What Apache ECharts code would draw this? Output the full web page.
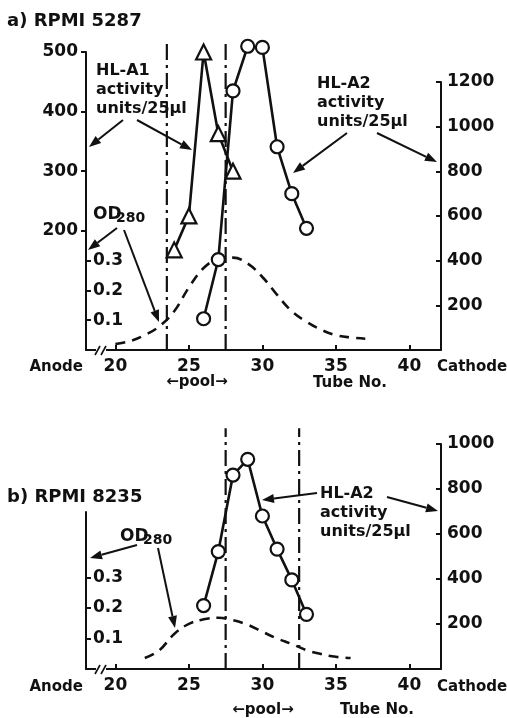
<!DOCTYPE html>
<html><head><meta charset="utf-8">
<script src="https://cdn.jsdelivr.net/npm/echarts@6/dist/echarts.min.js"></script>
<style>html,body{margin:0;padding:0;background:#fff}#c{width:507px;height:718px}</style>
</head><body><div id="c"></div>
<script>
// ---------- data ----------
const xTicks = [20, 25, 30, 35, 40];
// panel a) RPMI 5287
const tubesA1 = [24, 25, 26, 27, 28];
const hla1A = [168, 225, 500, 363, 300];
const tubesA2 = [26, 27, 28, 29, 30, 31, 32, 33];
const hla2A = [140, 405, 1160, 1360, 1355, 910, 700, 545];
const odTubesA = [20, 21, 22, 23, 24, 25, 26, 27, 28, 29, 30, 31, 32, 33, 34, 35, 36, 37];
const odA = [0.02, 0.03, 0.05, 0.08, 0.13, 0.21, 0.275, 0.305, 0.31, 0.29, 0.245, 0.185, 0.13, 0.095, 0.068, 0.05, 0.042, 0.038];
const poolA = [23.5, 27.5];
const hla1TicksA = [200, 300, 400, 500];
const hla2TicksA = [200, 400, 600, 800, 1000, 1200];
// panel b) RPMI 8235
const tubesB = [26, 27, 28, 29, 30, 31, 32, 33];
const hla2B = [282, 522, 862, 932, 680, 533, 396, 243];
const odTubesB = [22, 23, 24, 25, 26, 27, 28, 29, 30, 31, 32, 33, 34, 35, 36];
const odB = [0.036, 0.062, 0.115, 0.148, 0.163, 0.168, 0.16, 0.145, 0.122, 0.1, 0.082, 0.062, 0.049, 0.04, 0.036];
const poolB = [27.5, 32.5];
const hla2TicksB = [200, 400, 600, 800, 1000];
const odTicks = [0.1, 0.2, 0.3];

// ---------- styles ----------
const FONT = '"DejaVu Sans", sans-serif';
const INK = '#111';
const X_MIN = 18, X_MAX = 42.15;
const POOL_TOP_A = 1.037, POOL_TOP_B = 0.79;

const zip = (xs, ys) => xs.map((x, i) => [x, ys[i]]);

function xAxis(grid, show) {
  return {
    type: 'value', gridIndex: grid, min: X_MIN, max: X_MAX, show: show,
    axisLine: { show: true, onZero: false, lineStyle: { color: INK, width: 2 } },
    axisTick: { show: true, inside: true, length: 5, customValues: xTicks, lineStyle: { color: INK, width: 2 } },
    axisLabel: { show: true, customValues: xTicks, margin: 8, color: INK, fontFamily: FONT, fontWeight: 'bold', fontSize: 17, formatter: (v) => String(v) },
    splitLine: { show: false }
  };
}
function yAxisBase(grid, pos, min, max, ticks, tickInside, labelInside, showLine, margin) {
  return {
    type: 'value', gridIndex: grid, position: pos, min: min, max: max,
    axisLine: { show: showLine, lineStyle: { color: INK, width: 2 } },
    axisTick: { show: true, inside: tickInside, length: 5, customValues: ticks, lineStyle: { color: INK, width: 2 } },
    axisLabel: { show: true, inside: labelInside, customValues: ticks, margin: margin, color: INK, fontFamily: FONT, fontWeight: 'bold', fontSize: 17, formatter: (v) => String(v) },
    splitLine: { show: false }
  };
}
function activity(xIdx, yIdx, data, symbol, size) {
  return {
    type: 'line', xAxisIndex: xIdx, yAxisIndex: yIdx, data: data, clip: false,
    symbol: symbol, symbolSize: size, showSymbol: true, z: 5,
    lineStyle: { color: INK, width: 2.6 },
    itemStyle: { color: '#fff', borderColor: INK, borderWidth: 2.2 },
    emphasis: { disabled: true }, animation: false
  };
}
function od(xIdx, yIdx, data) {
  return {
    type: 'line', xAxisIndex: xIdx, yAxisIndex: yIdx, data: data, smooth: 0.4,
    symbol: 'none', lineStyle: { color: INK, width: 2.6, type: [10, 7] }, z: 3, animation: false
  };
}
function poolLine(xIdx, yIdx, x, top) {
  return {
    type: 'line', xAxisIndex: xIdx, yAxisIndex: yIdx, data: [[x, 0], [x, top]], clip: false,
    symbol: 'none', lineStyle: { color: INK, width: 2.2, type: [16, 5, 3, 5] }, z: 2, animation: false
  };
}

// ---------- annotations ----------
function txt(x, y, text, size, align, extra) {
  return Object.assign({
    type: 'text', x: x, y: y, z: 10,
    style: { text: text, fill: INK, font: 'bold ' + size + 'px ' + FONT, align: align || 'left', verticalAlign: 'middle' }
  }, extra || {});
}
function multi(x, y, lines, size, lh) {
  return { type: 'text', x: x, y: y, z: 10,
    style: { text: lines.join('\n'), fill: INK, font: 'bold ' + size + 'px ' + FONT, align: 'left', verticalAlign: 'top', lineHeight: lh } };
}
function arrow(x1, y1, x2, y2) {
  const L = 12, W = 4.5;
  const dx = x2 - x1, dy = y2 - y1, d = Math.hypot(dx, dy);
  const ux = dx / d, uy = dy / d;
  const bx = x2 - ux * L, by = y2 - uy * L;
  return [
    { type: 'line', z: 10, shape: { x1: x1, y1: y1, x2: bx, y2: by }, style: { stroke: INK, lineWidth: 2 } },
    { type: 'polygon', z: 10, shape: { points: [[x2, y2], [bx - uy * W, by + ux * W], [bx + uy * W, by - ux * W]] }, style: { fill: INK } }
  ];
}
function od280(x, y) {
  return [txt(x, y, 'OD', 17, 'left'), txt(x + 23, y + 3, '280', 14, 'left')];
}
function brk(x, y) {
  return [
    { type: 'rect', z: 9, shape: { x: x - 5, y: y - 2, width: 10, height: 4 }, style: { fill: '#fff' } },
    { type: 'line', z: 10, shape: { x1: x - 6, y1: y + 5, x2: x - 1, y2: y - 4 }, style: { stroke: INK, lineWidth: 1.6 } },
    { type: 'line', z: 10, shape: { x1: x, y1: y + 5, x2: x + 5, y2: y - 4 }, style: { stroke: INK, lineWidth: 1.6 } }
  ];
}

const graphics = [].concat(
  txt(7, 21, 'a) RPMI 5287', 18),
  multi(96, 61, ['HL-A1', 'activity', 'units/25µl'], 16, 19),
  arrow(123, 120, 89, 147), arrow(137, 120, 192, 150),
  multi(317, 74, ['HL-A2', 'activity', 'units/25µl'], 16, 19),
  arrow(347, 133, 293, 173), arrow(377, 133, 437, 162),
  od280(93, 215),
  arrow(117, 228, 88, 250), arrow(124, 230, 159, 322),
  txt(83, 367, 'Anode', 15, 'right'),
  txt(437, 367, 'Cathode', 15, 'left'),
  txt(197, 382, '←pool→', 15, 'center'),
  txt(350, 383, 'Tube No.', 15, 'center'),
  brk(101, 350),

  txt(7, 497, 'b) RPMI 8235', 18),
  od280(120, 537),
  arrow(137, 545, 90, 558), arrow(158, 548, 175, 628),
  multi(320, 484, ['HL-A2', 'activity', 'units/25µl'], 16, 19),
  arrow(317, 493, 262, 500), arrow(387, 497, 438, 511),
  txt(83, 687, 'Anode', 15, 'right'),
  txt(437, 687, 'Cathode', 15, 'left'),
  txt(263, 710, '←pool→', 15, 'center'),
  txt(377, 710, 'Tube No.', 15, 'center'),
  brk(101, 669)
);

const option = {
  animation: false,
  backgroundColor: '#fff',
  grid: [
    { left: 86, right: 66, top: 52, bottom: 368 },   // a) left axes
    { left: 86, right: 66, top: 82, bottom: 368 },   // a) right axis
    { left: 86, right: 66, top: 512, bottom: 49 },   // b) left axis
    { left: 86, right: 66, top: 444, bottom: 49 }    // b) right axis
  ],
  xAxis: [xAxis(0, true), xAxis(1, false), xAxis(2, true), xAxis(3, false)],
  yAxis: [
    yAxisBase(0, 'left', 0, 500, hla1TicksA, false, false, true, 8),
    yAxisBase(0, 'left', 0, 1.0, odTicks, true, true, false, 7),
    yAxisBase(1, 'right', 0, 1200, hla2TicksA, true, false, true, 6),
    yAxisBase(2, 'left', 0, 0.515, odTicks, true, true, true, 7),
    yAxisBase(3, 'right', 0, 1000, hla2TicksB, true, false, true, 6)
  ],
  series: [
    od(0, 1, zip(odTubesA, odA)),
    poolLine(0, 1, poolA[0], POOL_TOP_A),
    poolLine(0, 1, poolA[1], POOL_TOP_A),
    activity(0, 0, zip(tubesA1, hla1A), 'triangle', 15),
    activity(1, 2, zip(tubesA2, hla2A), 'circle', 13),
    od(2, 3, zip(odTubesB, odB)),
    poolLine(2, 3, poolB[0], POOL_TOP_B),
    poolLine(2, 3, poolB[1], POOL_TOP_B),
    activity(3, 4, zip(tubesB, hla2B), 'circle', 13)
  ],
  graphic: graphics
};
const chart = echarts.init(document.getElementById('c'), null, { renderer: 'canvas' });
chart.setOption(option);
</script></body></html>
